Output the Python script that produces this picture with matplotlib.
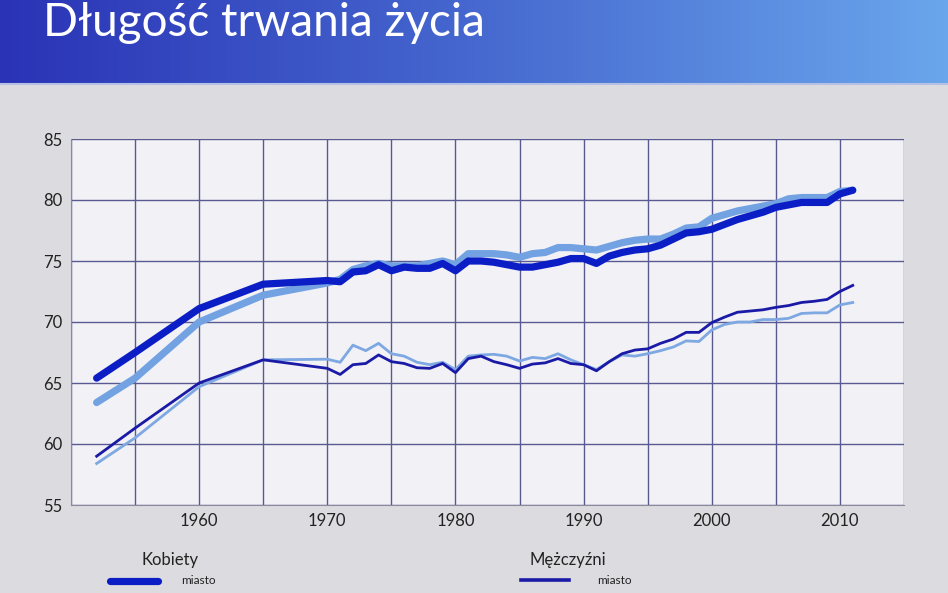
import numpy as np
import matplotlib
matplotlib.use("Agg")
import matplotlib.pyplot as plt
from matplotlib.colors import LinearSegmentedColormap

plt.rcParams['font.family'] = ['Lato', 'DejaVu Sans']

# lata: 1952, 1955, 1960, 1965, 1970, potem co roku 1971-2011
years = [1952, 1955, 1960, 1965, 1970] + list(range(1971, 2012))

# Kobiety - miasto
women_city = [65.4, 67.5, 71.1, 73.1, 73.4,
              73.3, 74.1, 74.2, 74.7, 74.2, 74.5, 74.4, 74.4, 74.8, 74.2,
              75.0, 75.0, 74.9, 74.7, 74.5, 74.5, 74.7, 74.9, 75.2, 75.2,
              74.8, 75.4, 75.7, 75.9, 76.0, 76.3, 76.8, 77.3, 77.4, 77.6,
              78.0, 78.4, 78.7, 79.0, 79.4, 79.6, 79.8, 79.8, 79.8, 80.5,
              80.8]
# Kobiety - wieś
women_rural = [63.4, 65.4, 70.0, 72.2, 73.2,
               73.5, 74.3, 74.6, 74.8, 74.6, 74.6, 74.6, 74.8, 75.0, 74.7,
               75.6, 75.6, 75.6, 75.5, 75.3, 75.6, 75.7, 76.1, 76.1, 76.0,
               75.9, 76.2, 76.5, 76.7, 76.8, 76.8, 77.2, 77.7, 77.8, 78.5,
               78.8, 79.1, 79.3, 79.5, 79.7, 80.1, 80.2, 80.2, 80.2, 80.7,
               80.8]
# Mężczyźni - miasto
men_city = [59.0, 61.3, 65.0, 66.9, 66.2,
            65.7, 66.5, 66.6, 67.3, 66.75, 66.6, 66.25, 66.2, 66.6, 65.85,
            67.0, 67.2, 66.75, 66.5, 66.2, 66.55, 66.65, 67.0, 66.6, 66.5,
            66.0, 66.75, 67.4, 67.7, 67.8, 68.25, 68.6, 69.15, 69.15, 69.95,
            70.4, 70.8, 70.9, 71.0, 71.2, 71.35, 71.6, 71.7, 71.85, 72.5,
            73.0]
# Mężczyźni - wieś
men_rural = [58.4, 60.5, 64.7, 66.9, 66.95,
             66.7, 68.1, 67.65, 68.25, 67.4, 67.2, 66.7, 66.5, 66.7, 66.1,
             67.2, 67.3, 67.35, 67.2, 66.8, 67.1, 67.0, 67.4, 66.9, 66.5,
             66.1, 66.75, 67.3, 67.2, 67.4, 67.65, 67.95, 68.45, 68.4, 69.35,
             69.8, 70.0, 70.0, 70.2, 70.2, 70.3, 70.7, 70.75, 70.75, 71.4,
             71.6]

xticks = [1960, 1970, 1980, 1990, 2000, 2010]
yticks = [55, 60, 65, 70, 75, 80, 85]

dark_w = '#0b1ec6'
light_w = '#72a2e2'
dark_m = '#1a1aa6'
light_m = '#7ea8e2'
grid_c = '#5a5a92'

fig = plt.figure(figsize=(9.48, 5.93), dpi=100)
fig.patch.set_facecolor('#dcdce0')

# pasek tytułu z gradientem
band = fig.add_axes([0, 1 - 83 / 593, 1, 83 / 593])
cmap = LinearSegmentedColormap.from_list('band', ['#2a33b6', '#4668cf', '#6aa6ec'])
band.imshow(np.linspace(0, 1, 256).reshape(1, -1), aspect='auto', cmap=cmap,
            extent=[0, 1, 0, 1])
band.set_xlim(0, 1)
band.set_ylim(0, 1)
band.axis('off')
band.text(43 / 948, 0.72, 'Długość trwania życia', color='white', fontsize=33,
          va='center', ha='left')
fig.add_artist(plt.Line2D([0, 1], [1 - 84 / 593, 1 - 84 / 593], color='#b4c0e4',
                          lw=1.5, transform=fig.transFigure))

ax = fig.add_axes([71 / 948, 88 / 593, 833 / 948, 366 / 593])
ax.set_facecolor('#f1f1f6')
ax.plot(years, women_rural, color=light_w, lw=5.2, solid_capstyle='round', zorder=3)
ax.plot(years, women_city, color=dark_w, lw=5.2, solid_capstyle='round', zorder=4)
ax.plot(years, men_rural, color=light_m, lw=2.0, zorder=3)
ax.plot(years, men_city, color=dark_m, lw=2.0, zorder=4)

ax.set_xlim(1950, 2015)
ax.set_ylim(55, 85)
ax.set_xticks(range(1950, 2016, 5), minor=False)
ax.set_xticklabels([str(y) if y in xticks else '' for y in range(1950, 2016, 5)])
ax.set_yticks(yticks)
ax.grid(True, color=grid_c, lw=1.0)
ax.tick_params(length=0, labelsize=12, colors='#222222', pad=6)
for s in ['top', 'right']:
    ax.spines[s].set_visible(False)
for s in ['left', 'bottom']:
    ax.spines[s].set_color('#8a8a9a')

# legenda
fig.text(170 / 948, 1 - 560 / 593, 'Kobiety', fontsize=12, ha='center', va='center', color='#222222')
fig.add_artist(plt.Line2D([110 / 948, 158 / 948], [1 - 581 / 593, 1 - 581 / 593],
                          color=dark_w, lw=5.2, solid_capstyle='round',
                          transform=fig.transFigure))
fig.text(181 / 948, 1 - 581 / 593, 'miasto', fontsize=8.5, ha='left', va='center', color='#222222')
fig.text(568 / 948, 1 - 560 / 593, 'Mężczyźni', fontsize=12, ha='center', va='center', color='#222222')
fig.add_artist(plt.Line2D([521 / 948, 569 / 948], [1 - 580 / 593, 1 - 580 / 593],
                          color=dark_m, lw=2.6, transform=fig.transFigure))
fig.text(597 / 948, 1 - 580 / 593, 'miasto', fontsize=8.5, ha='left', va='center', color='#222222')

fig.savefig('out.png', dpi=100, facecolor=fig.get_facecolor())
